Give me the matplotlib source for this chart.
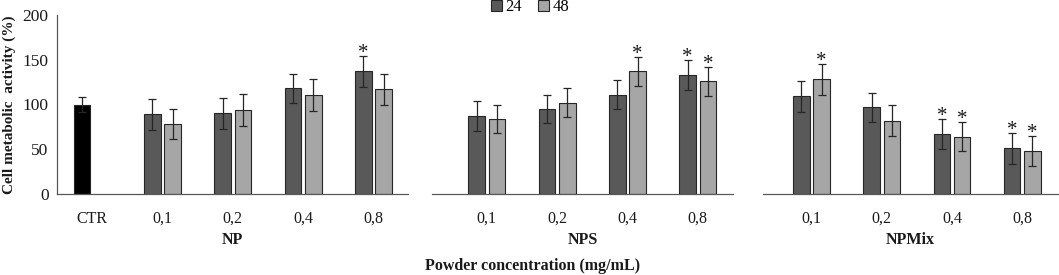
import numpy as np
import matplotlib
matplotlib.use('Agg')
import matplotlib.pyplot as plt
from matplotlib.patches import Patch

plt.rcParams['font.family'] = ['Liberation Serif', 'DejaVu Serif']

# data
groups = ['NP', 'NPS', 'NPMix']
conc = ['0,1', '0,2', '0,4', '0,8']
ctr_value = 100
ctr_err = 8
np_24 = [89, 90, 118, 137]
np_24_err = [17, 17, 16, 17]
np_48 = [78, 94, 111, 117]
np_48_err = [17, 18, 18, 17]
nps_24 = [87, 95, 111, 133]
nps_24_err = [17, 16, 16, 17]
nps_48 = [84, 102, 137, 126]
nps_48_err = [16, 16, 16, 16]
mix_24 = [109, 97, 67, 51]
mix_24_err = [17, 16, 17, 17]
mix_48 = [128, 82, 64, 48]
mix_48_err = [17, 17, 16, 17]
# significance marks (24 h, 48 h)
np_star = [(False, False), (False, False), (False, False), (True, False)]
nps_star = [(False, False), (False, False), (False, True), (True, True)]
mix_star = [(False, True), (False, False), (True, True), (True, True)]

c24 = '#595959'
c48 = '#a6a6a6'
edge = '#262626'
txt = '#1a1a1a'
W, H = 1059, 275
w = 0.235
off = 0.145

fig = plt.figure(figsize=(W / 100, H / 100), dpi=100)

def px_axes(left, right):
    return fig.add_axes([left / W, (H - 194) / H, (right - left) / W, (194 - 15) / H])

ax1 = px_axes(57, 408)
ax2 = px_axes(432, 733)
ax3 = px_axes(763, 1058)

def star(ax, xpos, top):
    # asterisk glyph sits high in the em box, so anchor below its visual centre
    ax.text(xpos, top + 3, '*', ha='center', va='center', fontsize=15, color=txt)

def draw_panel(ax, x, v24, e24, v48, e48, stars, title):
    kw = dict(width=w, edgecolor=edge, linewidth=0.8, capsize=2.6,
              error_kw=dict(ecolor=edge, elinewidth=0.9, capthick=0.9))
    ax.bar(x - off, v24, yerr=e24, color=c24, **kw)
    ax.bar(x + off, v48, yerr=e48, color=c48, **kw)
    for i in range(len(x)):
        if stars[i][0]:
            star(ax, x[i] - off, v24[i] + e24[i])
        if stars[i][1]:
            star(ax, x[i] + off, v48[i] + e48[i])
    ax.set_ylim(0, 200)
    for s in ['top', 'right', 'left']:
        ax.spines[s].set_visible(False)
    ax.spines['bottom'].set_color('#595959')
    ax.spines['bottom'].set_linewidth(0.9)
    ax.tick_params(axis='x', length=0, pad=12, labelsize=11.5, labelcolor=txt)
    ax.set_yticks([])
    ax.set_xlabel(title, fontsize=11.5, fontweight='bold', color=txt, labelpad=4)

# panel 1 with control
x1 = np.arange(1, 5)
ax1.bar(0 - off, ctr_value, yerr=ctr_err, width=w, color='black', edgecolor=edge,
        linewidth=0.8, capsize=2.6, error_kw=dict(ecolor=edge, elinewidth=0.9, capthick=0.9))
draw_panel(ax1, x1, np_24, np_24_err, np_48, np_48_err, np_star, groups[0])
ax1.set_xlim(-0.5, 4.49)
ax1.set_xticks(np.arange(0, 5))
ax1.set_xticklabels(['CTR'] + conc)
ax1.spines['left'].set_visible(True)
ax1.spines['left'].set_color('#595959')
ax1.spines['left'].set_linewidth(0.9)
ax1.set_yticks([0, 50, 100, 150, 200])
ax1.tick_params(axis='y', length=0, pad=6, labelsize=12.5, labelcolor=txt)
ax1.set_ylabel('Cell metabolic  activity (%)', fontsize=11, fontweight='bold',
               color=txt, labelpad=5)

x = np.arange(4)
draw_panel(ax2, x, nps_24, nps_24_err, nps_48, nps_48_err, nps_star, groups[1])
ax2.set_xlim(-0.78, 3.5)
ax2.set_xticks(x)
ax2.set_xticklabels(conc)

draw_panel(ax3, x, mix_24, mix_24_err, mix_48, mix_48_err, mix_star, groups[2])
ax3.set_xlim(-0.69, 3.51)
ax3.set_xticks(x)
ax3.set_xticklabels(conc)

handles = [Patch(facecolor=c24, edgecolor=edge, linewidth=0.8, label='24'),
           Patch(facecolor=c48, edgecolor=edge, linewidth=0.8, label='48')]
fig.legend(handles=handles, loc='center', bbox_to_anchor=(530 / W, 1 - 7 / H), ncol=2,
           frameon=False, fontsize=12, handlelength=0.65, handleheight=0.65,
           handletextpad=0.2, columnspacing=1.0, borderpad=0)

fig.text(533 / W, 1 - 266 / H, 'Powder concentration (mg/mL)', ha='center', va='center',
         fontsize=11.5, fontweight='bold', color=txt)

fig.savefig('out.png', dpi=100, facecolor='white')
